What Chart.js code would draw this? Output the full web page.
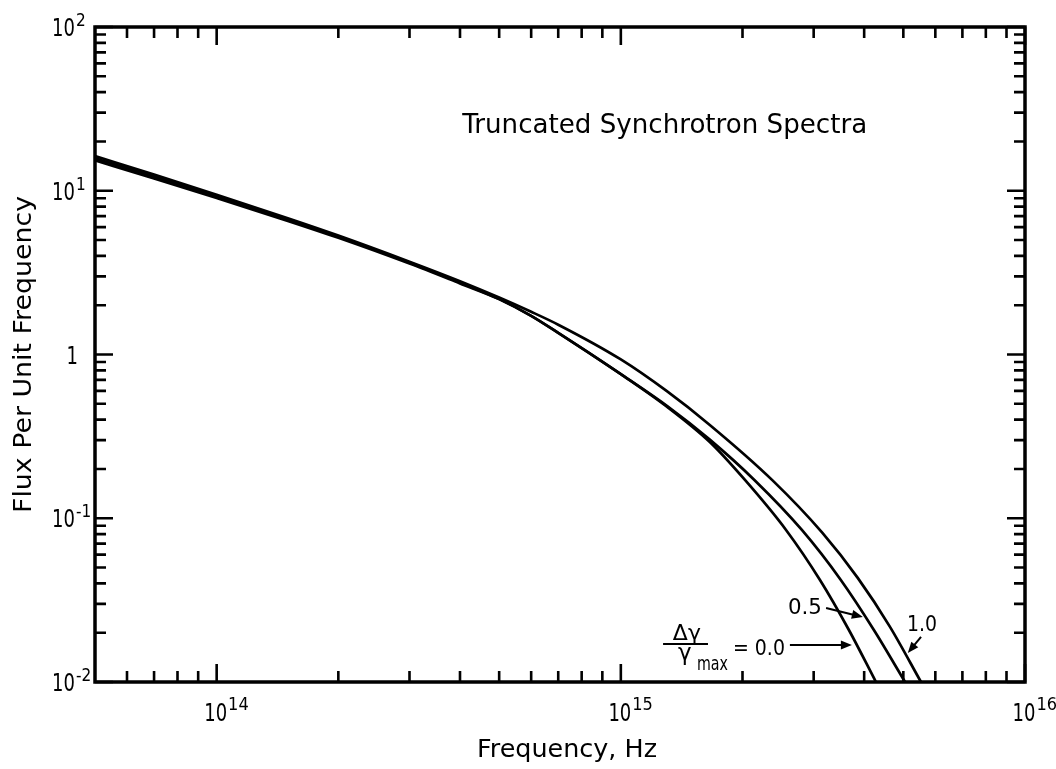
<!DOCTYPE html>
<html><head><meta charset="utf-8">
<script src="https://cdn.jsdelivr.net/npm/chart.js@4.4.1/dist/chart.umd.min.js"></script>
<style>html,body{margin:0;padding:0;background:#fff}#wrap{width:1056px;height:769px;position:relative}</style>
</head><body><div id="wrap"><canvas id="c"></canvas></div>
<script>
// ---------- data ----------
const xMin = 5e13, xMax = 1e16, yMin = 0.01, yMax = 100;

// Δγ/γmax = 0.0
const freq00 = [5e13, 7e13, 1e14, 1.5e14, 2e14, 3e14, 4e14, 5e14, 6e14, 7e14, 1e15, 1.3e15, 1.66e15, 2.028e15, 2.563e15, 3.11e15, 3.667e15, 4.278e15];
const flux00 = [15.32, 11.87, 9.02, 6.55, 5.16, 3.59, 2.716, 2.178, 1.722, 1.355, 0.7586, 0.480, 0.292, 0.1713, 0.0848, 0.04197, 0.02078, 0.0100];

// Δγ/γmax = 0.5
const freq05 = [5e13, 7e13, 1e14, 1.5e14, 2e14, 3e14, 4e14, 5e14, 6e14, 7e14, 1e15, 1.3e15, 1.66e15, 2.14e15, 2.805e15, 3.502e15, 4.228e15, 5.05e15];
const flux05 = [15.80, 12.20, 9.24, 6.68, 5.24, 3.64, 2.754, 2.178, 1.722, 1.355, 0.7586, 0.4858, 0.302, 0.1713, 0.0848, 0.04197, 0.02078, 0.0100];

// Δγ/γmax = 1.0
const freq10 = [5e13, 7e13, 1e14, 1.5e14, 2e14, 3e14, 4e14, 5e14, 6e14, 7e14, 1e15, 1.3e15, 1.66e15, 2.37e15, 3.15e15, 3.86e15, 4.63e15, 5.53e15];
const flux10 = [16.30, 12.54, 9.45, 6.80, 5.33, 3.69, 2.804, 2.228, 1.823, 1.521, 0.933, 0.597, 0.3715, 0.171, 0.0817, 0.0431, 0.0218, 0.0100];

const xMajorTicks = [1e14, 1e15, 1e16];
const xMinorTicks = [6e13, 7e13, 8e13, 9e13,
  2e14, 3e14, 4e14, 5e14, 6e14, 7e14, 8e14, 9e14,
  2e15, 3e15, 4e15, 5e15, 6e15, 7e15, 8e15, 9e15];
const xTickBase = ['10', '10', '10'];
const xTickExp = ['14', '15', '16'];

const yMajorTicks = [100, 10, 1, 0.1, 0.01];
const yMinorTicks = [
  20, 30, 40, 50, 60, 70, 80, 90,
  2, 3, 4, 5, 6, 7, 8, 9,
  0.2, 0.3, 0.4, 0.5, 0.6, 0.7, 0.8, 0.9,
  0.02, 0.03, 0.04, 0.05, 0.06, 0.07, 0.08, 0.09];
const yTickBase = ['10', '10', '1', '10', '10'];
const yTickExp = ['2', '1', '', '-1', '-2'];

const chartTitle = 'Truncated Synchrotron Spectra';
const xTitle = 'Frequency, Hz';
const yTitle = 'Flux Per Unit Frequency';

// annotation anchors in data coordinates
const titleAnchor = {x: 4.05e14, y: 22.5};
const labels = [
  {text: '0.5', x: 2.855e15, y: 0.0279, size: 21, align: 'center', width: 34},
  {text: '1.0', x: 5.56e15, y: 0.022, size: 21, align: 'center', width: 30},
  {text: '= 0.0', x: 1.894e15, y: 0.01462, size: 21, align: 'left', width: 52, baseline: 'alphabetic'},
  {text: 'Δγ', x: 1.457e15, y: 0.01805, size: 22, align: 'center', baseline: 'alphabetic'},
  {text: 'γ', x: 1.385e15, y: 0.01363, size: 23, align: 'left', baseline: 'alphabetic'},
  {text: 'max', x: 1.543e15, y: 0.01184, size: 19, align: 'left', width: 31, baseline: 'alphabetic'}
];
const arrows = [
  {x1: 3.22e15, y1: 0.0283, x2: 3.97e15, y2: 0.0249},
  {x1: 5.53e15, y1: 0.01884, x2: 5.13e15, y2: 0.01503},
  {x1: 2.62e15, y1: 0.01683, x2: 3.73e15, y2: 0.01683}
];
const fracBar = {x1: 1.272e15, x2: 1.643e15, y: 0.01706};

// ---------- drawing ----------
const FONT = '"DejaVu Sans", sans-serif';
function toPts(xs, ys) { return xs.map((v, i) => ({x: v, y: ys[i]})); }
function txt(ctx, s, x, y, size, o) {
  o = o || {};
  ctx.save();
  ctx.font = size + 'px ' + FONT;
  const w = ctx.measureText(s).width;
  const sx = o.width ? o.width / w : (o.sx || 1);
  ctx.translate(x, y);
  if (o.rotate) ctx.rotate(-Math.PI / 2);
  ctx.scale(sx, 1);
  ctx.textAlign = o.align || 'left';
  ctx.textBaseline = o.baseline || 'alphabetic';
  ctx.fillStyle = '#000';
  ctx.fillText(s, 0, 0);
  ctx.restore();
  return w * sx;
}
function arrow(ctx, x1, y1, x2, y2) {
  const a = Math.atan2(y2 - y1, x2 - x1);
  const L = 11, H = 4.5;
  ctx.beginPath();
  ctx.moveTo(x1, y1);
  ctx.lineTo(x2 - L * 0.8 * Math.cos(a), y2 - L * 0.8 * Math.sin(a));
  ctx.stroke();
  ctx.beginPath();
  ctx.moveTo(x2, y2);
  ctx.lineTo(x2 - L * Math.cos(a) + H * Math.sin(a), y2 - L * Math.sin(a) - H * Math.cos(a));
  ctx.lineTo(x2 - L * Math.cos(a) - H * Math.sin(a), y2 - L * Math.sin(a) + H * Math.cos(a));
  ctx.closePath();
  ctx.fill();
}

const decor = {
  id: 'decor',
  afterDatasetsDraw(chart) {
    const ctx = chart.ctx, a = chart.chartArea, xs = chart.scales.x, ys = chart.scales.y;
    ctx.save();
    ctx.strokeStyle = '#000'; ctx.fillStyle = '#000';
    ctx.lineCap = 'butt';
    // frame
    ctx.lineWidth = 3.5;
    ctx.strokeRect(a.left, a.top, a.right - a.left, a.bottom - a.top);
    // ticks
    ctx.lineWidth = 2.6;
    const MAJ = 18, MIN = 11;
    function xt(v, len) {
      const p = xs.getPixelForValue(v);
      ctx.beginPath();
      ctx.moveTo(p, a.bottom); ctx.lineTo(p, a.bottom - len);
      ctx.moveTo(p, a.top); ctx.lineTo(p, a.top + len);
      ctx.stroke();
    }
    function yt(v, len) {
      const p = ys.getPixelForValue(v);
      ctx.beginPath();
      ctx.moveTo(a.left, p); ctx.lineTo(a.left + len, p);
      ctx.moveTo(a.right, p); ctx.lineTo(a.right - len, p);
      ctx.stroke();
    }
    xMajorTicks.forEach(v => xt(v, MAJ));
    xMinorTicks.forEach(v => xt(v, MIN));
    yMajorTicks.forEach(v => yt(v, MAJ));
    yMinorTicks.forEach(v => yt(v, MIN));
    // x tick labels
    xMajorTicks.forEach((v, i) => {
      const p = xs.getPixelForValue(v);
      const w = txt(ctx, xTickBase[i], p - 1, a.bottom + 39, 25, {align: 'center', sx: 0.72});
      txt(ctx, xTickExp[i], p - 1 + w / 2 + 1, a.bottom + 28, 18, {align: 'left', sx: 0.9});
    });
    // y tick labels
    yMajorTicks.forEach((v, i) => {
      const p = ys.getPixelForValue(v);
      if (yTickExp[i] === '') {
        txt(ctx, yTickBase[i], a.left - 17, p + 9, 25, {align: 'right', sx: 0.72});
      } else {
        txt(ctx, yTickBase[i], a.left - 20, p + 9, 25, {align: 'right', sx: 0.72});
        txt(ctx, yTickExp[i], a.left - 19, p - 1, 18, {align: 'left', sx: 0.85});
      }
    });
    // axis titles
    txt(ctx, xTitle, (a.left + a.right) / 2 + 7, a.bottom + 75, 24, {align: 'center', width: 180});
    txt(ctx, yTitle, a.left - 64, (a.top + a.bottom) / 2, 25, {align: 'center', rotate: true, width: 317});
    // chart title
    txt(ctx, chartTitle, xs.getPixelForValue(titleAnchor.x), ys.getPixelForValue(titleAnchor.y), 27, {align: 'left', width: 405});
    // annotations
    labels.forEach(l => {
      txt(ctx, l.text, xs.getPixelForValue(l.x), ys.getPixelForValue(l.y), l.size,
        {align: l.align, width: l.width, baseline: l.baseline || 'middle'});
    });
    ctx.lineWidth = 2;
    arrows.forEach(r => arrow(ctx, xs.getPixelForValue(r.x1), ys.getPixelForValue(r.y1),
      xs.getPixelForValue(r.x2), ys.getPixelForValue(r.y2)));
    ctx.lineWidth = 2;
    ctx.beginPath();
    const fy = ys.getPixelForValue(fracBar.y);
    ctx.moveTo(xs.getPixelForValue(fracBar.x1), fy);
    ctx.lineTo(xs.getPixelForValue(fracBar.x2), fy);
    ctx.stroke();
    ctx.restore();
  }
};

const ds = (xsArr, ysArr) => ({
  data: toPts(xsArr, ysArr), borderColor: '#000', borderWidth: 2.7, pointRadius: 0,
  fill: false, cubicInterpolationMode: 'monotone'
});

new Chart(document.getElementById('c'), {
  type: 'line',
  data: {datasets: [ds(freq00, flux00), ds(freq05, flux05), ds(freq10, flux10)]},
  options: {
    responsive: true, maintainAspectRatio: false, animation: false,
    layout: {padding: {left: 95, right: 31, top: 27, bottom: 87}},
    plugins: {legend: {display: false}, tooltip: {enabled: false}},
    scales: {
      x: {type: 'logarithmic', min: xMin, max: xMax, display: false},
      y: {type: 'logarithmic', min: yMin, max: yMax, display: false}
    }
  },
  plugins: [decor]
});
</script>
</body></html>
